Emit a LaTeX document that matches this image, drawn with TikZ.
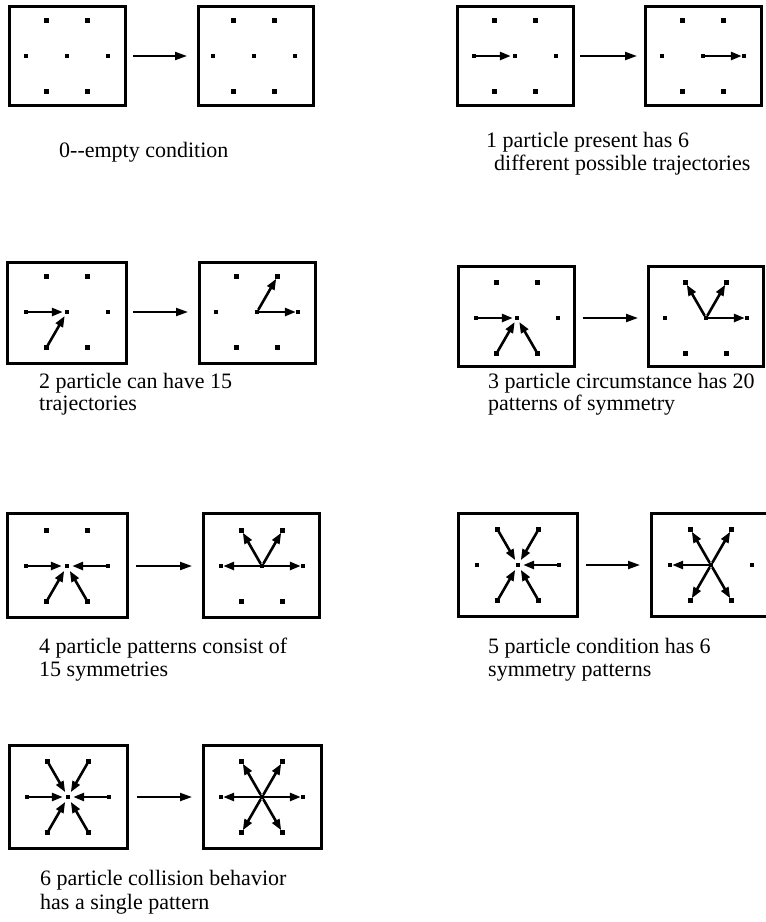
\documentclass[tikz,border=0pt]{standalone}
\usepackage{fontspec}
\setmainfont{Liberation Serif}
\usetikzlibrary{arrows.meta}
\newcommand{\hexcell}[3]{%
  \node[dot] (#1c) at (#2,#3) {};
  \node[dot] (#1E) at (#2+41,#3) {};
  \node[dot] (#1W) at (#2-41,#3) {};
  \node[dot] (#1NE) at (#2+20.5,#3-35.5) {};
  \node[dot] (#1NW) at (#2-20.5,#3-35.5) {};
  \node[dot] (#1SE) at (#2+20.5,#3+35.5) {};
  \node[dot] (#1SW) at (#2-20.5,#3+35.5) {};
}
\begin{document}
\begin{tikzpicture}[x=1pt,y=-1pt,
  box/.style={draw,line width=3pt,inner sep=0pt,outer sep=0pt},
  boxline/.style={line width=3pt},
  dot/.style={rectangle,fill=black,minimum size=4.4pt,inner sep=0pt,outer sep=0pt},
  pin/.style={line width=2.6pt,-{Triangle[length=11pt,width=8pt]},shorten >=2pt},
  pout/.style={line width=2.6pt,-{Triangle[length=11pt,width=8pt]}},
  conn/.style={line width=2pt,-{Triangle[length=12pt,width=8pt]}},
  lbl/.style={anchor=base west,inner sep=0pt,font=\fontsize{22}{23}\selectfont}]
\useasboundingbox[fill=white] (0,0) rectangle (766,922);

% ---------- panel 0 ----------
\node[box,minimum width=116pt,minimum height=99pt] (b0L) at (67,55.5) {};
\node[box,minimum width=115pt,minimum height=99pt] (b0R) at (255.5,55.5) {};
\hexcell{p0L}{67}{56}
\hexcell{p0R}{254}{56}
\draw[conn,shorten <=8pt,shorten >=11pt] (b0L.east |- p0Lc) -- (b0R.west |- p0Lc);

% ---------- panel 1 ----------
\node[box,minimum width=116pt,minimum height=99pt] (b1L) at (515,55.5) {};
\node[box,minimum width=116pt,minimum height=99pt] (b1R) at (703,55.5) {};
\hexcell{p1L}{515}{56}
\hexcell{p1R}{703}{56}
\draw[conn,shorten <=7pt,shorten >=8pt] (b1L.east |- p1Lc) -- (b1R.west |- p1Lc);
\draw[pin] (p1LW) -- (p1Lc);
\draw[pout] (p1Rc) -- (p1RE);

% ---------- panel 2 ----------
\node[box,minimum width=119pt,minimum height=101pt] (b2L) at (66.5,312.5) {};
\node[box,minimum width=116pt,minimum height=101pt] (b2R) at (257,312.5) {};
\hexcell{p2L}{67}{312}
\hexcell{p2R}{257}{312}
\draw[conn,shorten <=7pt,shorten >=11pt] (b2L.east |- p2Lc) -- (b2R.west |- p2Lc);
\draw[pin] (p2LW) -- (p2Lc);
\draw[pin] (p2LSW) -- (p2Lc);
\draw[pout] (p2Rc) -- (p2RNE);
\draw[pout] (p2Rc) -- (p2RE);

% ---------- panel 3 ----------
\node[box,minimum width=116pt,minimum height=100pt] (b3L) at (516,316) {};
\node[box,minimum width=115pt,minimum height=100pt] (b3R) at (705.5,316) {};
\hexcell{p3L}{517}{318}
\hexcell{p3R}{706}{318}
\draw[conn,shorten <=9pt,shorten >=10pt] (b3L.east |- p3Lc) -- (b3R.west |- p3Lc);
\draw[pin] (p3LW) -- (p3Lc);
\draw[pin] (p3LSW) -- (p3Lc);
\draw[pin] (p3LSE) -- (p3Lc);
\draw[pout] (p3Rc) -- (p3RNW);
\draw[pout] (p3Rc) -- (p3RNE);
\draw[pout] (p3Rc) -- (p3RE);

% ---------- panel 4 ----------
\node[box,minimum width=120pt,minimum height=104pt] (b4L) at (67,565) {};
\node[box,minimum width=116pt,minimum height=104pt] (b4R) at (261,565) {};
\hexcell{p4L}{67}{566}
\hexcell{p4R}{262}{566}
\draw[conn,shorten <=9pt,shorten >=11pt] (b4L.east |- p4Lc) -- (b4R.west |- p4Lc);
\foreach \d in {W,E,SW,SE} \draw[pin,shorten >=3pt] (p4L\d) -- (p4Lc);
\foreach \d in {W,E,NW,NE} \draw[pout] (p4Rc) -- (p4R\d);

% ---------- panel 5 ----------
\node[box,minimum width=119pt,minimum height=103pt] (b5L) at (517.5,564.5) {};
\node[minimum width=115pt,minimum height=103pt,inner sep=0pt,outer sep=0pt] (b5R) at (708.5,564.5) {};
\draw[boxline] (b5R.north east) -- (b5R.north west) -- (b5R.south west) -- (b5R.south east);
\hexcell{p5L}{518}{565}
\hexcell{p5R}{711}{565}
\draw[conn,shorten <=9pt,shorten >=11pt] (b5L.east |- p5Lc) -- (b5R.west |- p5Lc);
\foreach \d in {E,NW,NE,SW,SE} \draw[pin,shorten >=3pt] (p5L\d) -- (p5Lc);
\foreach \d in {W,NW,NE,SW,SE} \draw[pout] (p5Rc) -- (p5R\d);

% ---------- panel 6 ----------
\node[box,minimum width=118pt,minimum height=103pt] (b6L) at (68,796.5) {};
\node[box,minimum width=118pt,minimum height=103pt] (b6R) at (262,796.5) {};
\hexcell{p6L}{68}{797}
\hexcell{p6R}{262}{797}
\draw[conn,shorten <=10pt,shorten >=11pt] (b6L.east |- p6Lc) -- (b6R.west |- p6Lc);
\foreach \d in {W,E,NW,NE,SW,SE} \draw[pin,shorten >=3pt] (p6L\d) -- (p6Lc);
\foreach \d in {W,E,NW,NE,SW,SE} \draw[pout] (p6Rc) -- (p6R\d);

% ---------- labels ----------
\node[lbl] (t0) at (59,157) {0-{}-empty condition};
\node[lbl] (t1a) at (486,147) {1 particle present has 6};
\node[lbl] (t1b) at (494,170) {different possible trajectories};
\node[lbl] (t2a) at (39,388) {2 particle can have 15};
\node[lbl] (t2b) at (39,410) {trajectories};
\node[lbl] (t3a) at (488,388) {3 particle circumstance has 20};
\node[lbl] (t3b) at (488,410) {patterns of symmetry};
\node[lbl] (t4a) at (39,653) {4 particle patterns consist of};
\node[lbl] (t4b) at (39,676) {15 symmetries};
\node[lbl] (t5a) at (488,653) {5 particle condition has 6};
\node[lbl] (t5b) at (488,676) {symmetry patterns};
\node[lbl] (t6a) at (40,885) {6 particle collision behavior};
\node[lbl] (t6b) at (40,909) {has a single pattern};
\end{tikzpicture}
\end{document}
